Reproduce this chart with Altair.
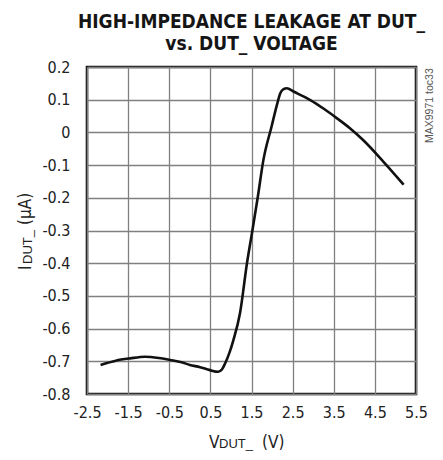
import altair as alt
import pandas as pd

# Data
vdut = [-2.17, -1.8, -1.45, -1.09, -0.75, -0.48, -0.2, 0.0, 0.25, 0.49, 0.69, 0.78, 0.86, 0.96,
        1.06, 1.22, 1.39, 1.51, 1.65, 1.79, 1.99, 2.12, 2.20, 2.28, 2.36, 2.52, 2.93, 3.25, 3.58,
        3.9, 4.22, 4.71, 5.20]
idut = [-0.711, -0.698, -0.691, -0.686, -0.690, -0.696, -0.703, -0.711, -0.718, -0.727, -0.732,
        -0.725, -0.706, -0.675, -0.635, -0.553, -0.40, -0.309, -0.20, -0.084, 0.019, 0.085, 0.12,
        0.132, 0.135, 0.125, 0.099, 0.073, 0.043, 0.012, -0.024, -0.090, -0.16]

x_ticks = [-2.5, -1.5, -0.5, 0.5, 1.5, 2.5, 3.5, 4.5, 5.5]
y_ticks = [-0.8, -0.7, -0.6, -0.5, -0.4, -0.3, -0.2, -0.1, 0.0, 0.1, 0.2]

title_lines = ["HIGH-IMPEDANCE LEAKAGE AT DUT_", "vs. DUT_ VOLTAGE"]
note = "MAX9971 toc33"

df = pd.DataFrame({"v": vdut, "i": idut})

W, H = 329, 327
label_expr = "abs(datum.value) < 1e-9 ? '0' : (datum.value < 0 ? '-' : '') + format(abs(datum.value), '.1f')"

narrow = "'DejaVu Sans Condensed', 'Liberation Sans', sans-serif"
plain = "'Liberation Sans', sans-serif"

curve = alt.Chart(df).mark_line(color="#111111", strokeWidth=2.6, interpolate="monotone").encode(
    x=alt.X("v:Q", scale=alt.Scale(domain=[-2.5, 5.5], nice=False, zero=False),
            axis=alt.Axis(values=x_ticks, title=None, labelExpr=label_expr, labelPadding=10,
                          labelFlush=False)),
    y=alt.Y("i:Q", scale=alt.Scale(domain=[-0.8, 0.2], nice=False, zero=False),
            axis=alt.Axis(values=y_ticks, title=None, labelExpr=label_expr, labelPadding=17,
                          labelFlush=False)),
    order=alt.Order("v:Q"),
)

one = alt.Data(values=[{"a": 1}])

def txt(t, x, y, size, font=narrow, angle=0, color="#222222"):
    return alt.Chart(one).mark_text(text=t, font=font, fontSize=size, align="left",
                                    baseline="alphabetic", angle=angle, color=color).encode(
        x=alt.value(x), y=alt.value(y))

texts = [
    # x title: V_DUT_ (V)
    txt("V", 122, 381, 17),
    txt("DUT_", 132, 381, 13, font=plain),
    txt("(V)", 175, 381, 17),
    # y title: I_DUT_ (µA), rotated
    txt("I", -56, 203, 17, angle=270),
    txt("DUT_", -55, 197, 13, font=plain, angle=270),
    txt("(µA)", -56, 158, 17, angle=270),
    # side note
    txt(note, 346, 76, 10.5, font=plain, angle=270, color="#555555"),
]

chart = alt.layer(curve, *texts).properties(
    width=W, height=H,
    padding={"left": 79, "top": 59, "right": 19, "bottom": 58},
    autosize=alt.AutoSizeParams(type="none"),
    title=alt.TitleParams(text=title_lines, font=narrow, fontWeight="bold", fontSize=19,
                          anchor="middle", lineHeight=22, offset=5, color="#151515"),
).configure_axis(
    labelFont=narrow, labelFontSize=16, labelColor="#222222", labelOverlap=False,
    tickSize=0, domain=False, grid=True, gridColor="#808080", gridWidth=1.3, gridOpacity=1,
).configure_view(stroke="#151515", strokeWidth=2.6)

chart.save("out.html", embed_options={"renderer": "svg", "actions": False})
